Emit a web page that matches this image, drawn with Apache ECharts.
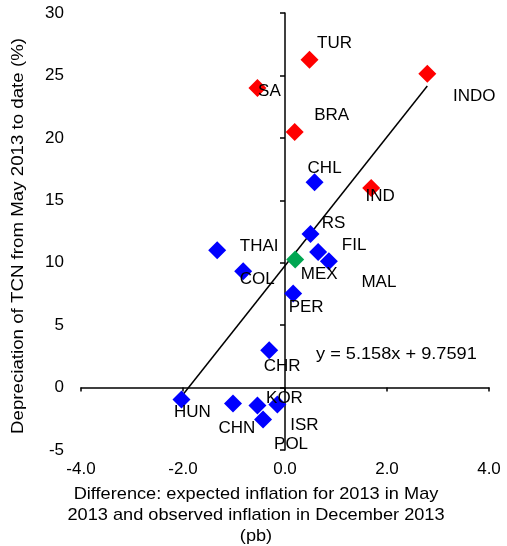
<!DOCTYPE html>
<html>
<head>
<meta charset="utf-8">
<script src="https://cdn.jsdelivr.net/npm/echarts@6/dist/echarts.min.js"></script>
<style>html,body{margin:0;padding:0;background:#fff}#c{width:507px;height:546px}</style>
</head>
<body>
<div id="c"></div>
<script>
// Countries with large depreciation (red)
const redNames = ['TUR', 'SA', 'BRA', 'INDO', 'IND'];
const redX = [0.48, -0.54, 0.19, 2.79, 1.69];
const redY = [26.26, 24.0, 20.47, 25.14, 15.99];
// Other countries (blue)
const blueNames = ['CHL', 'RS', 'FIL', 'MAL', 'THAI', 'COL', 'PER', 'CHR', 'HUN', 'CHN', 'KOR', 'POL', 'ISR'];
const blueX = [0.58, 0.50, 0.65, 0.86, -1.33, -0.82, 0.16, -0.31, -2.03, -1.02, -0.54, -0.43, -0.15];
const blueY = [16.44, 12.3, 10.86, 10.11, 10.99, 9.31, 7.53, 2.99, -0.96, -1.28, -1.44, -2.56, -1.36];
// Mexico (green)
const greenNames = ['MEX'];
const greenX = [0.20];
const greenY = [10.25];
// Trendline coefficients as shown
const slope = 5.158;
const intercept = 9.7591;
// Axis ticks
const xTicks = [-4, -2, 0, 2, 4];
const yTicks = [-5, 0, 5, 10, 15, 20, 25, 30];

// label offsets (style)
const labelOffsets = {
  TUR: [25, -16], SA: [12, 3], BRA: [37, -17], INDO: [47, 23], IND: [9, 8],
  CHL: [10, -14], RS: [23, -11], FIL: [36, -7], MAL: [50, 21], THAI: [42, -4],
  COL: [14, 8], MEX: [24, 15], PER: [13, 14], CHR: [13, 16], HUN: [11, 13],
  CHN: [4, 25], KOR: [27, -7], POL: [28, 25], ISR: [27, 21]
};

const FONT = 'Liberation Sans, Arial, sans-serif';
const FS = 17;
function build(names, xs, ys) {
  return names.map((n, i) => ({
    name: n,
    value: [xs[i], ys[i]],
    label: { offset: labelOffsets[n] }
  }));
}
const allX = redX.concat(blueX, greenX);
const xMin = Math.min.apply(null, allX), xMax = Math.max.apply(null, allX);
const trend = [[xMin, slope * xMin + intercept], [xMax, slope * xMax + intercept]];

const labelStyle = {
  show: true, position: 'inside', formatter: '{b}', color: '#000',
  fontFamily: FONT, fontSize: FS, align: 'center', verticalAlign: 'middle'
};
function scatter(data, color) {
  return {
    type: 'scatter', xAxisIndex: 0, yAxisIndex: 0, data: data,
    symbol: 'diamond', symbolSize: 18, itemStyle: { color: color, opacity: 1 },
    label: labelStyle, z: 3, emphasis: { disabled: true }
  };
}

const chart = echarts.init(document.getElementById('c'), null, { renderer: 'canvas' });
chart.setOption({
  animation: false,
  grid: { left: 81, right: 18, top: 13, bottom: 96, containLabel: false, outerBoundsMode: 'none' },
  xAxis: [
    {
      type: 'value', min: xTicks[0], max: xTicks[xTicks.length - 1], interval: 2, position: 'bottom',
      axisLine: { show: false, onZero: false }, axisTick: { show: false }, splitLine: { show: false },
      axisLabel: { color: '#000', fontFamily: FONT, fontSize: FS, margin: 11, formatter: v => v.toFixed(1) }
    },
    {
      type: 'value', min: xTicks[0], max: xTicks[xTicks.length - 1], interval: 2, position: 'top',
      axisLine: { show: true, onZero: true, onZeroAxisIndex: 0, lineStyle: { color: '#000', width: 1.5 } },
      axisTick: { show: true, inside: true, length: 4, lineStyle: { color: '#000', width: 1.5 } },
      axisLabel: { show: false }, splitLine: { show: false }
    }
  ],
  yAxis: [
    {
      type: 'value', min: yTicks[0], max: yTicks[yTicks.length - 1], interval: 5, position: 'left',
      axisLine: { show: false, onZero: false }, axisTick: { show: false }, splitLine: { show: false },
      axisLabel: { color: '#000', fontFamily: FONT, fontSize: FS, margin: 17 }
    },
    {
      type: 'value', min: yTicks[0], max: yTicks[yTicks.length - 1], interval: 5, position: 'right',
      axisLine: { show: true, onZero: true, onZeroAxisIndex: 0, lineStyle: { color: '#000', width: 1.5 } },
      axisTick: { show: true, inside: true, length: 5, lineStyle: { color: '#000', width: 1.5 } },
      axisLabel: { show: false }, splitLine: { show: false }
    }
  ],
  series: [
    {
      type: 'line', data: trend, xAxisIndex: 0, yAxisIndex: 0, symbol: 'none',
      lineStyle: { color: '#000', width: 1.5 }, z: 2, silent: true
    },
    scatter(build(redNames, redX, redY), '#FF0000'),
    scatter(build(blueNames, blueX, blueY), '#0000FF'),
    scatter(build(greenNames, greenX, greenY), '#00A651')
  ],
  graphic: [
    {
      type: 'text', x: 316, y: 354, scaleX: 1.07,
      style: { text: 'y = 5.158x + 9.7591', fill: '#000', font: FS + 'px ' + FONT, verticalAlign: 'middle', align: 'left' }
    },
    {
      type: 'text', x: 18, y: 236, rotation: Math.PI / 2, scaleX: 1.1,
      style: { text: 'Depreciation of TCN from May 2013 to date (%)', fill: '#000', font: FS + 'px ' + FONT, align: 'center', verticalAlign: 'middle' }
    },
    {
      type: 'text', x: 256, y: 484, scaleX: 1.07,
      style: {
        text: 'Difference: expected inflation for 2013 in May\n2013 and observed inflation in December 2013\n(pb)',
        fill: '#000', font: FS + 'px ' + FONT, align: 'center', verticalAlign: 'top', lineHeight: 21
      }
    }
  ]
});
</script>
</body>
</html>
